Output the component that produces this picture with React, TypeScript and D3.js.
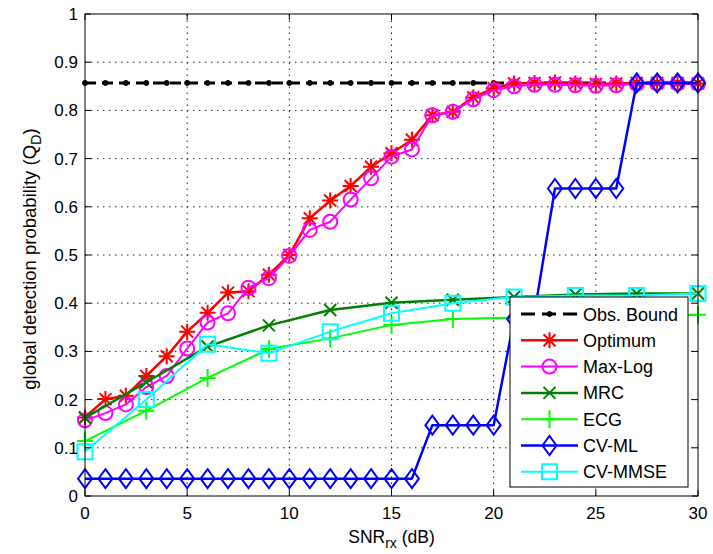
import React from "react";
import * as d3 from "d3";

const snr = [0,1,2,3,4,5,6,7,8,9,10,11,12,13,14,15,16,17,18,19,20,21,22,23,24,25,26,27,28,29,30];
const snrCoarse = [0,3,6,9,12,15,18,21,24,27,30];

const obsBound = [0.857,0.857,0.857,0.857,0.857,0.857,0.857,0.857,0.857,0.857,0.857,0.857,0.857,0.857,0.857,0.857,0.857,0.857,0.857,0.857,0.857,0.857,0.857,0.857,0.857,0.857,0.857,0.857,0.857,0.857,0.857];
const optimum = [0.163,0.201,0.208,0.249,0.290,0.341,0.380,0.422,0.425,0.459,0.500,0.576,0.613,0.643,0.683,0.711,0.739,0.790,0.797,0.827,0.846,0.856,0.857,0.858,0.856,0.855,0.856,0.857,0.857,0.857,0.856];
const maxLog = [0.157,0.172,0.190,0.226,0.249,0.306,0.360,0.379,0.432,0.452,0.498,0.552,0.569,0.615,0.659,0.704,0.719,0.790,0.797,0.823,0.842,0.850,0.853,0.853,0.852,0.851,0.852,0.855,0.856,0.856,0.856];
const mrc = [0.162,0.236,0.310,0.354,0.386,0.401,0.407,0.413,0.418,0.420,0.420];
const ecg = [0.114,0.177,0.245,0.305,0.327,0.355,0.367,0.370,0.372,0.374,0.376];
const cvMl = [0.036,0.036,0.036,0.036,0.036,0.036,0.036,0.036,0.036,0.036,0.036,0.036,0.036,0.036,0.036,0.036,0.036,0.147,0.147,0.147,0.147,0.367,0.380,0.638,0.638,0.638,0.638,0.857,0.857,0.857,0.857];
const cvMmse = [0.092,0.200,0.315,0.296,0.341,0.379,0.400,0.413,0.416,0.416,0.420];

const xTicks = [0,5,10,15,20,25,30];
const yTicks = [0,0.1,0.2,0.3,0.4,0.5,0.6,0.7,0.8,0.9,1];
const yTickLabels = ["0","0.1","0.2","0.3","0.4","0.5","0.6","0.7","0.8","0.9","1"];

type Marker = "point" | "star" | "circle" | "x" | "plus" | "diamond" | "square";

interface Series {
  name: string;
  xs: number[];
  ys: number[];
  color: string;
  width: number;
  dash?: string;
  marker: Marker;
}

const series: Series[] = [
  { name: "Obs. Bound", xs: snr, ys: obsBound, color: "#000000", width: 3, dash: "11,6", marker: "point" },
  { name: "Optimum", xs: snr, ys: optimum, color: "#ff0000", width: 2.5, marker: "star" },
  { name: "Max-Log", xs: snr, ys: maxLog, color: "#ff00ff", width: 2, marker: "circle" },
  { name: "MRC", xs: snrCoarse, ys: mrc, color: "#008000", width: 2.5, marker: "x" },
  { name: "ECG", xs: snrCoarse, ys: ecg, color: "#00ff00", width: 2, marker: "plus" },
  { name: "CV-ML", xs: snr, ys: cvMl, color: "#0000ff", width: 2.5, marker: "diamond" },
  { name: "CV-MMSE", xs: snrCoarse, ys: cvMmse, color: "#00ffff", width: 2, marker: "square" },
];

const W = 713, H = 554;
const L = 85, R = 698, T = 14, B = 496;
const FONT = "'Liberation Sans', Arial, Helvetica, sans-serif";

function markerPath(m: Marker, cx: number, cy: number): string {
  const p = d3.path();
  switch (m) {
    case "star": {
      const s = 8, d = 6;
      p.moveTo(cx - s, cy); p.lineTo(cx + s, cy);
      p.moveTo(cx, cy - s); p.lineTo(cx, cy + s);
      p.moveTo(cx - d, cy - d); p.lineTo(cx + d, cy + d);
      p.moveTo(cx - d, cy + d); p.lineTo(cx + d, cy - d);
      break;
    }
    case "circle":
      p.moveTo(cx + 7, cy); p.arc(cx, cy, 7, 0, Math.PI * 2);
      break;
    case "x": {
      const d = 6;
      p.moveTo(cx - d, cy - d); p.lineTo(cx + d, cy + d);
      p.moveTo(cx - d, cy + d); p.lineTo(cx + d, cy - d);
      break;
    }
    case "plus": {
      const s = 8;
      p.moveTo(cx - s, cy); p.lineTo(cx + s, cy);
      p.moveTo(cx, cy - s - 1); p.lineTo(cx, cy + s + 1);
      break;
    }
    case "diamond": {
      const w = 7, h = 9.5;
      p.moveTo(cx, cy - h); p.lineTo(cx + w, cy); p.lineTo(cx, cy + h); p.lineTo(cx - w, cy); p.closePath();
      break;
    }
    case "square":
      p.rect(cx - 7.5, cy - 7.5, 15, 15);
      break;
    case "point":
      p.moveTo(cx + 2.5, cy); p.arc(cx, cy, 2.5, 0, Math.PI * 2);
      break;
  }
  return p.toString();
}

function MarkerShape({ m, cx, cy, color }: { m: Marker; cx: number; cy: number; color: string }) {
  const filled = m === "point";
  return (
    <path
      d={markerPath(m, cx, cy)}
      fill={filled ? color : "none"}
      stroke={color}
      strokeWidth={m === "point" ? 1 : 2}
    />
  );
}

export default function App() {
  const x = d3.scaleLinear().domain([0, 30]).range([L, R]);
  const y = d3.scaleLinear().domain([0, 1]).range([B, T]);
  const line = d3.line<[number, number]>().x(d => x(d[0])).y(d => y(d[1]));

  const legendX = 510, legendY = 297, legendW = 178, legendH = 190;
  const rowY0 = 314, rowStep = 26.3;

  return (
    <div style={{ position: "absolute", left: 0, top: 0, width: W, height: H, background: "#fff" }}>
      <svg width={W} height={H} style={{ display: "block" }} fontFamily={FONT}>
        <rect x={0} y={0} width={W} height={H} fill="#fff" />
        <rect x={L} y={T} width={R - L} height={B - T} fill="#fff" />
        {/* grid */}
        <g stroke="#222" strokeWidth={1} strokeDasharray="1.5,4.5">
          {xTicks.map((t, i) => (i > 0 && i < xTicks.length - 1 ?
            <line key={"gx" + i} x1={x(t)} x2={x(t)} y1={B} y2={T} /> : null))}
          {yTicks.map((t, i) => (i > 0 && i < yTicks.length - 1 ?
            <line key={"gy" + i} x1={L} x2={R} y1={y(t)} y2={y(t)} /> : null))}
        </g>
        {/* series lines */}
        {series.map(s => (
          <g key={s.name}>
            <path
              d={line(s.xs.map((v, i) => [v, s.ys[i]] as [number, number])) || ""}
              fill="none"
              stroke={s.color}
              strokeWidth={s.width}
              strokeDasharray={s.dash}
              strokeLinejoin="round"
            />
            {s.xs.map((v, i) => (
              <MarkerShape key={i} m={s.marker} cx={x(v)} cy={y(s.ys[i])} color={s.color} />
            ))}
          </g>
        ))}
        {/* axes box */}
        <rect x={L} y={T} width={R - L} height={B - T} fill="none" stroke="#000" strokeWidth={1} />
        <g stroke="#000" strokeWidth={1}>
          {xTicks.map((t, i) => (
            <g key={"tx" + i}>
              <line x1={x(t)} x2={x(t)} y1={B} y2={B - 6} />
              <line x1={x(t)} x2={x(t)} y1={T} y2={T + 6} />
            </g>
          ))}
          {yTicks.map((t, i) => (
            <g key={"ty" + i}>
              <line x1={L} x2={L + 6} y1={y(t)} y2={y(t)} />
              <line x1={R} x2={R - 6} y1={y(t)} y2={y(t)} />
            </g>
          ))}
        </g>
        {/* tick labels */}
        <g fontSize={17} fill="#000">
          {xTicks.map((t, i) => (
            <text key={"lx" + i} x={x(t)} y={B + 22.5} textAnchor="middle">{t}</text>
          ))}
          {yTicks.map((t, i) => (
            <text key={"ly" + i} x={L - 7} y={y(t) + 6} textAnchor="end">{yTickLabels[i]}</text>
          ))}
        </g>
        {/* axis labels */}
        <text x={(L + R) / 2} y={543} textAnchor="middle" fontSize={17.5} fill="#000">
          SNR<tspan fontSize={14} dy={5}>rx</tspan><tspan dy={-5}> (dB)</tspan>
        </text>
        <text transform={`translate(36,259) rotate(-90)`} textAnchor="middle" fontSize={18.5} fill="#000">
          global detection probability (Q<tspan fontSize={14.5} dy={5}>D</tspan><tspan dy={-5}>)</tspan>
        </text>
        {/* legend */}
        <rect x={legendX} y={legendY} width={legendW} height={legendH} fill="#fff" stroke="#000" strokeWidth={1} />
        {series.map((s, i) => {
          const ry = rowY0 + i * rowStep;
          return (
            <g key={"lg" + i}>
              <line x1={521} x2={578} y1={ry} y2={ry} stroke={s.color} strokeWidth={s.width}
                strokeDasharray={s.dash ? "14,7" : undefined} />
              <MarkerShape m={s.marker} cx={549.5} cy={ry} color={s.color} />
              <text x={583} y={ry + 6.5} fontSize={18} fill="#000">{s.name}</text>
            </g>
          );
        })}
      </svg>
    </div>
  );
}
